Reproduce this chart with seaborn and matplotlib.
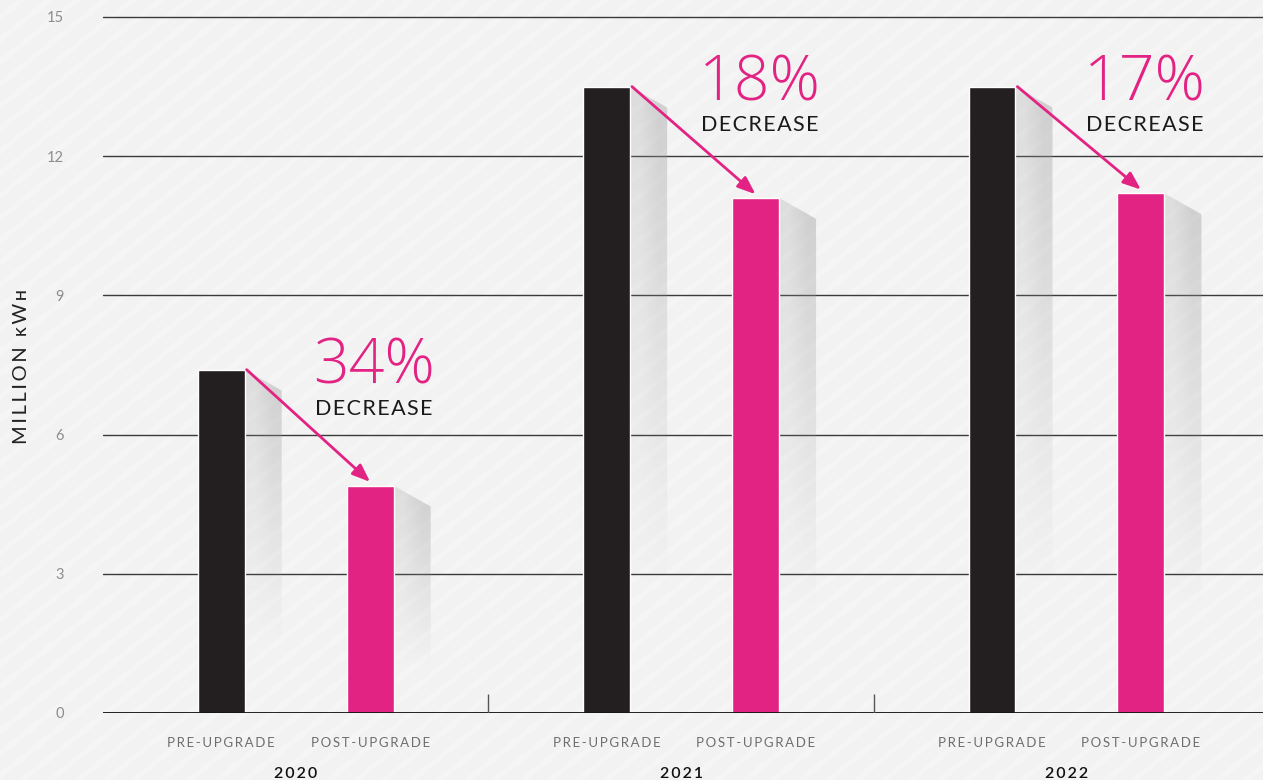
import numpy as np
import pandas as pd
import seaborn as sns
import matplotlib.pyplot as plt
from matplotlib.patches import Polygon
from matplotlib.lines import Line2D

# data
years = ['2020', '2021', '2022']
stages = ['PRE-UPGRADE', 'POST-UPGRADE']
pre_upgrade = [7.4, 13.5, 13.5]
post_upgrade = [4.9, 11.1, 11.2]
decrease_labels = ['34%', '18%', '17%']
y_ticks = [0, 3, 6, 9, 12, 15]

df = pd.DataFrame({
    'year': years * 2,
    'stage': [stages[0]] * 3 + [stages[1]] * 3,
    'value': pre_upgrade + post_upgrade,
})

BLACK = '#231f20'
PINK = '#e32383'
BG = '#f2f2f2'

sns.set_theme(style='white')
plt.rcParams['font.family'] = ['Lato', 'DejaVu Sans']

def spaced(s, sep='\u2009'):
    return sep.join(s)

fig = plt.figure(figsize=(12.63, 7.8), dpi=100, facecolor=BG)

# faint diagonal stripes in the background
for k in np.arange(-1.5, 1.5, 0.022):
    fig.add_artist(Line2D([k, k + 1.0], [0, 1.3], color='#f5f5f5', lw=4,
                          transform=fig.transFigure, zorder=-10))

ax = fig.add_axes([103 / 1263, 1 - 713 / 780, 1 - 103 / 1263, (713 - 17) / 780])
ax.patch.set_alpha(0)

sns.barplot(data=df, x='year', y='value', hue='stage', hue_order=stages,
            palette=[BLACK, PINK], saturation=1, width=0.773, gap=0.685,
            legend=False, ax=ax, zorder=3)

# gridlines
for y in y_ticks[1:]:
    ax.axhline(y, color='#3a3a3a', lw=1, zorder=1, clip_on=False)
ax.axhline(0, color='#111111', lw=1.3, zorder=4)
for s in ax.spines.values():
    s.set_visible(False)

# group separators
ax.vlines([0.5, 1.5], 0, 0.4, color='#555555', lw=1, zorder=4)

# bar shadows
for bar in list(ax.containers[0]) + list(ax.containers[1]):
    w = bar.get_width()
    xr = bar.get_x() + w
    top = bar.get_height()
    sw = 0.79 * w
    poly = Polygon([(xr, top), (xr + sw, top - 0.45), (xr + sw, 0), (xr, 0)],
                   closed=True, facecolor='none', edgecolor='none')
    ax.add_patch(poly)
    grad = np.zeros((200, 2, 4))
    grad[..., :3] = 0.6
    alpha = np.clip(np.linspace(0.4, -0.1, 200), 0, None)
    grad[..., 3] = alpha[:, None] * np.array([0.6, 1.0])[None, :]
    im = ax.imshow(grad, extent=[xr, xr + sw, 0, top], origin='upper',
                   aspect='auto', zorder=2, interpolation='bilinear')
    im.set_clip_path(poly)

ax.set_xlim(-0.5, 2.51)
ax.set_ylim(0, 15)

# arrows + annotations
for i, (pre_bar, post_bar) in enumerate(zip(ax.containers[0], ax.containers[1])):
    x0 = pre_bar.get_x() + pre_bar.get_width()
    y0 = pre_bar.get_height()
    x1 = post_bar.get_x() + post_bar.get_width() / 2
    y1 = post_bar.get_height() + 0.08
    ax.annotate('', xy=(x1, y1), xytext=(x0 + 0.005, y0),
                arrowprops=dict(arrowstyle='-|>,head_length=0.9,head_width=0.35',
                                color=PINK, lw=2, shrinkA=0, shrinkB=0),
                zorder=6)
    ax.annotate(decrease_labels[i], xy=(x1 + 0.01, y0), xytext=(0, -10),
                textcoords='offset points', ha='center', va='baseline',
                fontsize=45, family=['Open Sans', 'Lato'], fontweight='light',
                color=PINK, zorder=6)
    ax.annotate(spaced('DECREASE', '\u200a'), xy=(x1 + 0.01, y0), xytext=(0, -28),
                textcoords='offset points', ha='center', va='center',
                fontsize=15.5, color='#1a1a1a', zorder=6)

# y axis
ax.set_yticks(y_ticks)
ax.set_yticklabels([str(v) for v in y_ticks], color='#8c8c8c', fontsize=10.5)
ax.tick_params(axis='y', length=0, pad=28)
ax.set_ylabel('')
fig.text(22 / 1263, 1 - 367 / 780, spaced('MILLION ᴋWʜ'), rotation=90,
         ha='center', va='center', fontsize=14.5, color='#222222')

# x axis: stage labels (minor) and years (major)
centers = [b.get_x() + b.get_width() / 2 for b in ax.containers[0]] + \
          [b.get_x() + b.get_width() / 2 for b in ax.containers[1]]
labels = [spaced(stages[0])] * 3 + [spaced(stages[1])] * 3
ax.set_xticks(centers, minor=True)
ax.set_xticklabels(labels, minor=True, color='#6e6e6e', fontsize=9.5)
ax.set_xticks(range(len(years)))
ax.set_xticklabels([spaced(y) for y in years], color='#111111', fontsize=11.5,
                   fontweight='semibold')
ax.tick_params(axis='x', which='minor', length=0, pad=17)
ax.tick_params(axis='x', which='major', length=0, pad=39)
ax.set_xlabel('')

fig.savefig('out.png', dpi=100, facecolor=BG)
